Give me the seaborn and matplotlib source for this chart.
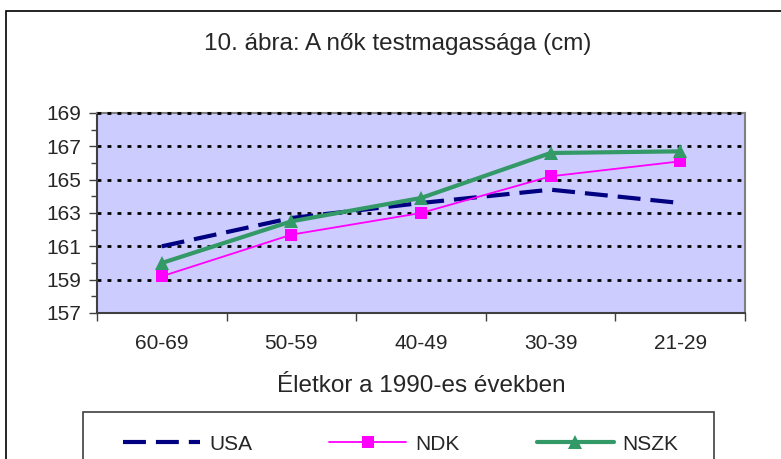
import matplotlib
matplotlib.use("Agg")
import matplotlib.pyplot as plt
import matplotlib.patches as mpatches
from matplotlib.ticker import FixedLocator, MultipleLocator
import pandas as pd
import seaborn as sns

# data
age_groups = ["60-69", "50-59", "40-49", "30-39", "21-29"]
usa = [161.0, 162.7, 163.6, 164.4, 163.6]
ndk = [159.2, 161.7, 163.0, 165.2, 166.1]
nszk = [160.0, 162.5, 163.9, 166.6, 166.7]

title = "10. ábra: A nők testmagassága (cm)"
xlabel = "Életkor a 1990-es években"
y_ticks = [157, 159, 161, 163, 165, 167, 169]

sns.set_style("white")
plt.rcParams["font.family"] = ["Liberation Sans", "DejaVu Sans"]

fig = plt.figure(figsize=(7.81, 4.59), dpi=100)
W, H = 781, 459
ax = fig.add_axes([97 / W, 1 - 313 / H, (745 - 97) / W, 200 / H])
ax.set_facecolor("#CCCCFF")

df = pd.DataFrame({"age": age_groups, "USA": usa, "NDK": ndk, "NSZK": nszk})

sns.lineplot(data=df, x="age", y="USA", ax=ax, color="#000080", linewidth=3.0,
             label="USA", sort=False)
ax.lines[-1].set_dashes((5.5, 2.4))
ax.lines[-1].set_dash_capstyle("butt")
sns.lineplot(data=df, x="age", y="NDK", ax=ax, color="#FF00FF", linewidth=1.3,
             marker="s", markersize=8.5, markeredgewidth=0, label="NDK", sort=False)
sns.lineplot(data=df, x="age", y="NSZK", ax=ax, color="#339966", linewidth=3.0,
             marker="^", markersize=10, markeredgewidth=0, label="NSZK", sort=False)

ax.set_xlim(-0.5, len(age_groups) - 0.5)
ax.set_ylim(157, 169)
ax.yaxis.set_major_locator(FixedLocator(y_ticks))
ax.yaxis.set_minor_locator(MultipleLocator(1))
ax.set_xticks(range(len(age_groups)))
ax.set_xticklabels(age_groups)
ax.xaxis.set_minor_locator(FixedLocator([i - 0.5 for i in range(len(age_groups) + 1)]))

# dotted gridlines, the top one drawn over the gray frame
for g in y_ticks[1:]:
    ax.axhline(g, color="black", linewidth=2.0, linestyle=(0, (1.4, 2.2)),
               zorder=3 if g == y_ticks[-1] else 1, clip_on=False)

ax.tick_params(axis="y", which="major", direction="out", length=6, width=1,
               color="#404040", labelsize=15, pad=5, left=True)
ax.tick_params(axis="y", which="minor", direction="out", length=4, width=1,
               color="#404040", left=True)
ax.tick_params(axis="x", which="major", length=0, labelsize=15, pad=15)
ax.tick_params(axis="x", which="minor", direction="out", length=6, width=1,
               color="#404040", bottom=True)

for name, sp in ax.spines.items():
    sp.set_visible(True)
    sp.set_linewidth(1.5)
    sp.set_color("#808080")
ax.spines["left"].set_color("#404040")
ax.spines["bottom"].set_color("#404040")

ax.set_xlabel(xlabel, fontsize=17.5)
ax.xaxis.label.set_va("center")
ax.xaxis.set_label_coords(0.5, (313 - 386) / 200)
ax.set_ylabel("")

fig.text(398 / W, 1 - 44 / H, title, ha="center", va="center", fontsize=17.5)

# outer chart frame
fig.patches.append(mpatches.Rectangle((6 / W, -0.05), 1.0, 1 - 11 / H + 0.05,
                                      transform=fig.transFigure, fill=False,
                                      edgecolor="black", linewidth=1.2))
# legend frame (runs past the bottom edge like the reference)
fig.patches.append(mpatches.Rectangle((83 / W, -0.05), (714 - 83) / W,
                                      1 - 412 / H + 0.05,
                                      transform=fig.transFigure, fill=False,
                                      edgecolor="#404040", linewidth=1.2))

handles, labels = ax.get_legend_handles_labels()
ax.get_legend().remove()
fig.legend(handles, labels, ncol=3, loc="center left",
           bbox_to_anchor=(123 / W, 1 - 444 / H), frameon=False,
           fontsize=15, handlelength=3.7, handletextpad=0.43,
           columnspacing=3.7, borderpad=0, borderaxespad=0)

fig.savefig("out.png", dpi=100)
